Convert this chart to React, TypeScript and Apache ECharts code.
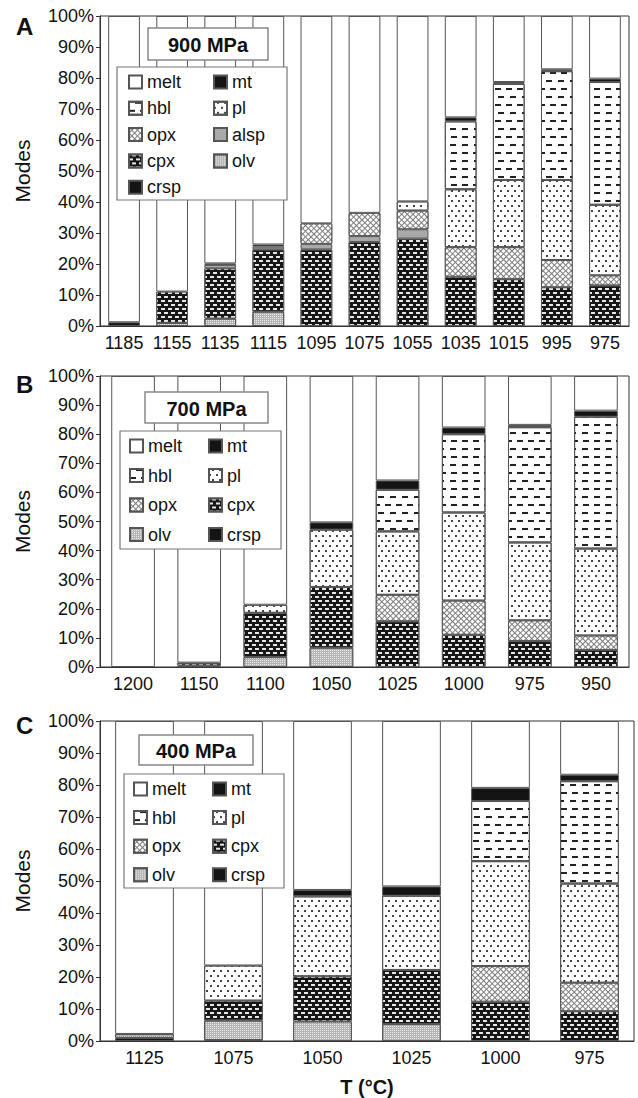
import React, { useEffect, useRef } from 'react';
import * as echarts from 'echarts';

const FONT = '"Liberation Sans", Arial, Helvetica, sans-serif';

// Panel A — 900 MPa
const tempsA = ['1185', '1155', '1135', '1115', '1095', '1075', '1055', '1035', '1015', '995', '975'];
const crspA = [1.2, 0, 0, 0, 0, 0, 0, 0, 0, 0, 0];
const olvA = [0, 1.0, 2.4, 4.6, 0, 0, 0, 0, 0, 0, 0];
const cpxA = [0, 10.1, 16.2, 20.1, 24.7, 27.1, 28.2, 15.9, 15.1, 12.5, 13.1];
const alspA = [0, 0, 1.1, 0.9, 1.8, 1.9, 3.0, 0, 0, 0, 0];
const opxA = [0, 0, 0, 0, 6.6, 7.5, 6.0, 9.5, 10.3, 8.8, 3.2];
const plA = [0, 0, 0, 0, 0, 0, 3.0, 18.7, 21.7, 25.8, 22.8];
const hblA = [0, 0, 0, 0, 0, 0, 0, 21.9, 31.0, 35.1, 39.6];
const mtA = [0, 0, 0.5, 0.7, 0, 0, 0, 1.3, 0.6, 0.6, 1.1];
const meltA = [98.8, 88.9, 79.8, 73.7, 66.9, 63.5, 59.8, 32.7, 21.3, 17.2, 20.2];

// Panel B — 700 MPa
const tempsB = ['1200', '1150', '1100', '1050', '1025', '1000', '975', '950'];
const olvB = [0, 0.5, 3.4, 6.6, 0, 0, 0, 0];
const cpxB = [0, 1.0, 15.2, 20.9, 15.7, 11.1, 8.9, 5.8];
const opxB = [0, 0, 0, 0, 9.1, 11.7, 7.1, 5.0];
const plB = [0, 0, 2.8, 19.7, 21.8, 30.3, 26.8, 29.9];
const hblB = [0, 0, 0, 0, 14.3, 26.9, 39.6, 45.3];
const mtB = [0, 0, 0, 2.5, 3.2, 2.3, 0.8, 2.1];
const meltB = [100, 98.5, 78.6, 50.3, 35.9, 17.7, 16.8, 11.9];

// Panel C — 400 MPa
const tempsC = ['1125', '1075', '1050', '1025', '1000', '975'];
const crspC = [1.0, 0.3, 0, 0, 0, 0];
const olvC = [1.2, 6.1, 6.1, 5.3, 0, 0];
const cpxC = [0, 6.2, 14.1, 16.9, 12.3, 9.3];
const opxC = [0, 0, 0, 0, 11.1, 8.9];
const plC = [0, 11.0, 25.0, 23.2, 32.8, 31.0];
const hblC = [0, 0, 0, 0, 18.8, 32.0];
const mtC = [0, 0, 2.0, 2.9, 4.1, 2.0];
const meltC = [97.8, 76.4, 52.8, 51.7, 20.9, 16.8];

const legendLeftA = ['melt', 'hbl', 'opx', 'cpx', 'crsp'];
const legendRightA = ['mt', 'pl', 'alsp', 'olv'];
const legendLeftBC = ['melt', 'hbl', 'opx', 'olv'];
const legendRightBC = ['mt', 'pl', 'cpx', 'crsp'];

const BORDER = '#555';

const itemStyles: Record<string, any> = {
  melt: { color: '#ffffff' },
  mt: { color: '#141414' },
  crsp: { color: '#141414' },
  alsp: { color: '#a9a9a9' },
  cpx: {
    color: '#161616',
    decal: { symbol: 'rect', symbolSize: 1, color: '#e6e6e6', dashArrayX: [[3.5, 2.5], [0, 3, 3.5, 0]], dashArrayY: [1.5, 1.6] },
  },
  opx: {
    color: '#7c7c7c',
    decal: { symbol: 'rect', symbolSize: 1, color: '#ffffff', dashArrayX: [3, 1], dashArrayY: [3, 1], rotation: Math.PI / 4 },
  },
  pl: {
    color: '#ffffff',
    decal: { symbol: 'rect', symbolSize: 1, color: '#444444', dashArrayX: [[1.2, 4.8], [0, 3, 1.2, 1.8]], dashArrayY: [1.2, 2.6] },
  },
  hbl: {
    color: '#ffffff',
    decal: { symbol: 'rect', symbolSize: 1, color: '#222222', dashArrayX: [[6, 5], [0, 5.5, 6, 0]], dashArrayY: [1.6, 6] },
  },
  olv: {
    color: '#b4b4b4',
    decal: { symbol: 'rect', symbolSize: 1, color: '#ececec', dashArrayX: [1, 1], dashArrayY: [1, 1] },
  },
};

type Panel = { temps: string[]; comps: [string, number[]][] };

const panels: Panel[] = [
  {
    temps: tempsA,
    comps: [
      ['crsp', crspA], ['olv', olvA], ['cpx', cpxA], ['alsp', alspA], ['opx', opxA],
      ['pl', plA], ['hbl', hblA], ['mt', mtA], ['melt', meltA],
    ],
  },
  {
    temps: tempsB,
    comps: [
      ['olv', olvB], ['cpx', cpxB], ['opx', opxB], ['pl', plB], ['hbl', hblB], ['mt', mtB], ['melt', meltB],
    ],
  },
  {
    temps: tempsC,
    comps: [
      ['crsp', crspC], ['olv', olvC], ['cpx', cpxC], ['opx', opxC], ['pl', plC], ['hbl', hblC], ['mt', mtC], ['melt', meltC],
    ],
  },
];

const grids = [
  { left: 100, top: 16, width: 529, height: 310 },
  { left: 100, top: 376, width: 529, height: 291 },
  { left: 100, top: 721, width: 534, height: 321 },
];

const legendPos = [
  { lx: 128, rx: 213, top: 73, gap: 8.3 },
  { lx: 129, rx: 208, top: 437, gap: 11.5 },
  { lx: 133, rx: 212, top: 780, gap: 10.6 },
];

const legendBoxes = [
  { x: 117, y: 67, w: 170, h: 133 },
  { x: 120, y: 431, w: 161, h: 118 },
  { x: 124, y: 774, w: 160, h: 114 },
];

const titleBoxes = [
  { x: 148, y: 28, w: 120, h: 32, text: '900 MPa' },
  { x: 145, y: 392, w: 123, h: 31, text: '700 MPa' },
  { x: 139, y: 735, w: 114, h: 30, text: '400 MPa' },
];

const panelLetters = [
  { text: 'A', y: 26 },
  { text: 'B', y: 384 },
  { text: 'C', y: 725 },
];

function buildOption() {
  const series: any[] = [];
  panels.forEach((p, i) => {
    p.comps.forEach(([name, vals]) => {
      series.push({
        type: 'bar',
        name,
        xAxisIndex: i,
        yAxisIndex: i,
        stack: 'panel' + i,
        barCategoryGap: '34%',
        data: vals.map((v) => (v > 0 ? v : '-')),
        itemStyle: { ...itemStyles[name], borderColor: BORDER, borderWidth: 1 },
        emphasis: { disabled: true },
      });
    });
  });

  const legends: any[] = [];
  legendPos.forEach((lp, i) => {
    const left = i === 0 ? legendLeftA : legendLeftBC;
    const right = i === 0 ? legendRightA : legendRightBC;
    [[lp.lx, left], [lp.rx, right]].forEach(([x, data]) => {
      legends.push({
        left: x,
        top: lp.top,
        orient: 'vertical',
        itemWidth: 13,
        itemHeight: 13,
        itemGap: lp.gap,
        padding: 0,
        icon: 'rect',
        selectedMode: false,
        z: 10,
        data,
        textStyle: { fontSize: 18, color: '#111', fontFamily: FONT, lineHeight: 18 },
      });
    });
  });

  const graphic: any[] = [];
  legendBoxes.forEach((b) => {
    graphic.push({
      type: 'rect',
      shape: { x: b.x, y: b.y, width: b.w, height: b.h },
      style: { fill: '#fff', stroke: '#777', lineWidth: 1.2 },
      z: 5,
    });
  });
  titleBoxes.forEach((b) => {
    graphic.push({
      type: 'rect',
      shape: { x: b.x, y: b.y, width: b.w, height: b.h },
      style: { fill: '#fff', stroke: '#888', lineWidth: 1.5 },
      z: 5,
    });
    graphic.push({
      type: 'text',
      x: b.x + b.w / 2,
      y: b.y + b.h / 2 + 1,
      style: {
        text: b.text,
        fontSize: 20,
        fontWeight: 'bold',
        fontFamily: FONT,
        fill: '#111',
        textAlign: 'center',
        textVerticalAlign: 'middle',
      },
      z: 6,
    });
  });
  panelLetters.forEach((l) => {
    graphic.push({
      type: 'text',
      x: 16,
      y: l.y,
      style: {
        text: l.text,
        fontSize: 24,
        fontWeight: 'bold',
        fontFamily: FONT,
        fill: '#111',
        textAlign: 'left',
        textVerticalAlign: 'middle',
      },
      z: 6,
    });
  });

  return {
    animation: false,
    backgroundColor: '#fff',
    textStyle: { fontFamily: FONT },
    grid: grids.map((g) => ({ ...g, show: true, borderColor: '#333', borderWidth: 1, backgroundColor: 'transparent' })),
    xAxis: panels.map((p, i) => ({
      type: 'category',
      gridIndex: i,
      data: p.temps,
      axisTick: { show: false },
      axisLine: { lineStyle: { color: '#333' } },
      axisLabel: { fontSize: 18, color: '#111', margin: 8, interval: 0, fontFamily: FONT },
      ...(i === 2
        ? {
            name: 'T (°C)',
            nameLocation: 'middle',
            nameGap: 36,
            nameTextStyle: { fontSize: 20, fontWeight: 'bold', color: '#111', fontFamily: FONT },
          }
        : {}),
    })),
    yAxis: panels.map((_, i) => ({
      type: 'value',
      gridIndex: i,
      min: 0,
      max: 100,
      interval: 10,
      axisLine: { show: true, lineStyle: { color: '#333' } },
      axisTick: { show: true, length: 4, lineStyle: { color: '#333' } },
      splitLine: { show: false },
      axisLabel: { formatter: '{value}%', fontSize: 18, color: '#111', margin: 6, fontFamily: FONT },
      name: 'Modes',
      nameLocation: 'middle',
      nameGap: 67,
      nameTextStyle: { fontSize: 21, color: '#111', fontFamily: FONT },
    })),
    legend: legends,
    series,
    graphic,
  };
}

export default function App() {
  const ref = useRef<HTMLDivElement>(null);
  useEffect(() => {
    document.body.style.margin = '0';
    if (!ref.current) return;
    const chart = echarts.init(ref.current, undefined, { renderer: 'svg' });
    chart.setOption(buildOption() as any);
    return () => chart.dispose();
  }, []);
  return <div ref={ref} style={{ width: 638, height: 1098 }} />;
}
